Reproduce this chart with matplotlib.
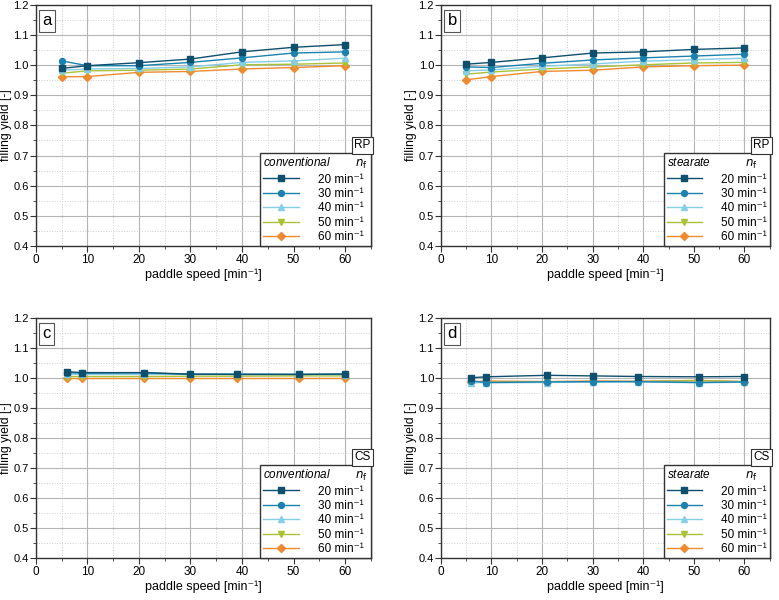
import matplotlib
matplotlib.use("Agg")
import matplotlib.pyplot as plt
from matplotlib.ticker import MultipleLocator

plt.rcParams['font.family'] = ['Liberation Sans', 'DejaVu Sans']
plt.rcParams['font.size'] = 8.5

speeds_rp = [5, 10, 20, 30, 40, 50, 60]
speeds_cs = [6, 9, 21, 30, 39, 51, 60]
series_labels = ["20 min⁻¹", "30 min⁻¹", "40 min⁻¹", "50 min⁻¹", "60 min⁻¹"]

a_vals = [
    [0.989, 0.998, 1.008, 1.020, 1.044, 1.059, 1.068],
    [1.014, 0.998, 0.998, 1.009, 1.024, 1.040, 1.044],
    [0.983, 0.987, 0.989, 0.994, 1.009, 1.014, 1.023],
    [0.973, 0.981, 0.983, 0.987, 1.001, 1.003, 1.007],
    [0.961, 0.962, 0.976, 0.979, 0.987, 0.992, 0.998],
]
b_vals = [
    [1.003, 1.009, 1.024, 1.040, 1.044, 1.052, 1.057],
    [0.994, 0.992, 1.006, 1.017, 1.024, 1.030, 1.036],
    [0.981, 0.984, 0.996, 1.004, 1.013, 1.018, 1.023],
    [0.970, 0.977, 0.987, 0.994, 1.001, 1.007, 1.009],
    [0.951, 0.962, 0.979, 0.983, 0.994, 0.998, 1.000],
]
c_vals = [
    [1.021, 1.018, 1.018, 1.013, 1.012, 1.012, 1.013],
    [1.018, 1.016, 1.017, 1.012, 1.012, 1.012, 1.013],
    [1.013, 1.012, 1.012, 1.013, 1.014, 1.012, 1.011],
    [1.005, 1.005, 1.005, 1.006, 1.006, 1.007, 1.007],
    [1.000, 1.000, 1.000, 1.000, 1.000, 1.000, 1.000],
]
d_vals = [
    [1.001, 1.004, 1.009, 1.007, 1.005, 1.004, 1.005],
    [0.990, 0.985, 0.987, 0.988, 0.988, 0.985, 0.987],
    [0.985, 0.984, 0.985, 0.986, 0.987, 0.984, 0.986],
    [0.985, 0.986, 0.987, 0.988, 0.988, 0.991, 0.988],
    [0.987, 0.990, 0.988, 0.990, 0.989, 0.992, 0.988],
]

colors = ['#0e4f6e', '#1b82b0', '#86cde6', '#a9c23a', '#ef8a2f']
markers = ['s', 'o', '^', 'v', 'D']
msizes = [4.0, 4.3, 4.5, 4.5, 3.6]

fig = plt.figure(figsize=(7.79, 6.0), dpi=100)
positions = [
    [0.046, 0.590, 0.430, 0.402],
    [0.566, 0.590, 0.422, 0.402],
    [0.046, 0.070, 0.430, 0.400],
    [0.566, 0.070, 0.422, 0.400],
]
panels = [
    ('a', speeds_rp, a_vals, 'conventional', 'RP'),
    ('b', speeds_rp, b_vals, 'stearate', 'RP'),
    ('c', speeds_cs, c_vals, 'conventional', 'CS'),
    ('d', speeds_cs, d_vals, 'stearate', 'CS'),
]

axes_info = []
for pos, (lab, xs, vals, kind, tag) in zip(positions, panels):
    ax = fig.add_axes(pos)
    handles = []
    for i in range(5):
        h, = ax.plot(xs, vals[i], color=colors[i], marker=markers[i], ms=msizes[i],
                     lw=1.0, label=series_labels[i], zorder=5 - i * 0.1)
        handles.append(h)
    ax.set_xlim(0, 65)
    ax.set_ylim(0.4, 1.2)
    ax.xaxis.set_major_locator(MultipleLocator(10))
    ax.xaxis.set_minor_locator(MultipleLocator(5))
    ax.yaxis.set_major_locator(MultipleLocator(0.1))
    ax.yaxis.set_minor_locator(MultipleLocator(0.05))
    ax.grid(which='major', color='#b4b4b4', lw=0.8, ls='-')
    ax.grid(which='minor', color='#cfcfcf', lw=0.7, ls=':')
    ax.set_axisbelow(True)
    ax.tick_params(which='both', direction='out', color='#333333', pad=1.5, labelsize=8.5)
    ax.tick_params(axis='y', labelsize=8, pad=1)
    ax.tick_params(which='major', length=4)
    ax.tick_params(which='minor', length=2.5)
    for s in ax.spines.values():
        s.set_color('#333333')
        s.set_linewidth(1.0)
    ax.set_xlabel('paddle speed [min⁻¹]', fontsize=9, labelpad=2)
    ax.set_ylabel('filling yield [-]', fontsize=8.8)
    width_px = pos[2] * 779
    ax.yaxis.set_label_coords(-23.5 / width_px, 0.5)
    ax.yaxis.set_major_formatter(matplotlib.ticker.FormatStrFormatter('%.1f'))

    ax.text(0.02, 0.965, lab, transform=ax.transAxes, ha='left', va='top', fontsize=12,
            bbox=dict(boxstyle='square,pad=0.2', fc='white', ec='#555555', lw=0.8))

    leg = ax.legend(handles=handles, loc='lower right', borderaxespad=0.0,
                    title=kind + ('        ' if kind == 'conventional' else '           ') + '$n_\\mathrm{f}$',
                    fancybox=False, edgecolor='#333333', framealpha=1, fontsize=8.5,
                    handlelength=3.0, labelspacing=0.2, borderpad=0.25, handletextpad=1.6)
    leg.get_frame().set_linewidth(1.0)
    leg._legend_box.align = 'left'
    leg.get_title().set_fontstyle('italic')
    leg.get_title().set_fontsize(8.5)
    leg.set_zorder(20)
    axes_info.append((ax, leg, tag))

fig.canvas.draw()
renderer = fig.canvas.get_renderer()
for ax, leg, tag in axes_info:
    bb = leg.get_window_extent(renderer)
    top = ax.transAxes.inverted().transform((0, bb.y1))[1]
    ax.text(0.999, top + 0.008, tag, transform=ax.transAxes, ha='right', va='bottom', fontsize=8.5,
            bbox=dict(boxstyle='square,pad=0.2', fc='white', ec='#333333', lw=0.8), zorder=21)

fig.savefig('out.png', dpi=100)
